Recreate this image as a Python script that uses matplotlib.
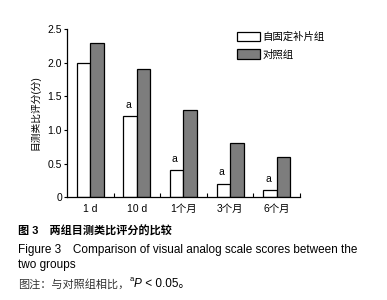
import matplotlib.pyplot as plt
import numpy as np

# 字体：英文用 Liberation Sans，中文用 Noto Sans CJK SC
plt.rcParams['font.family'] = ['Liberation Sans', 'Noto Sans CJK SC', 'DejaVu Sans']
plt.rcParams['axes.unicode_minus'] = False

# 数据
categories = ['1 d', '10 d', '1个月', '3个月', '6个月']
mesh_group = [2.0, 1.2, 0.4, 0.2, 0.1]
control_group = [2.3, 1.9, 1.3, 0.8, 0.6]
marks = ['', 'a', 'a', 'a', 'a']

fig = plt.figure(figsize=(3.87, 3.00), dpi=100)
ax = fig.add_axes([0.173, 0.343, 0.602, 0.56])

x = np.arange(len(categories))
w = 0.29
ax.bar(x - w / 2, mesh_group, w, color='white', edgecolor='black', linewidth=0.9, label='自固定补片组')
ax.bar(x + w / 2, control_group, w, color='#7d7d7d', edgecolor='black', linewidth=0.9, label='对照组')

# 显著性标记
for i, m in enumerate(marks):
    if m:
        ax.text(x[i] - w / 2 - 0.04, mesh_group[i] + 0.1, m, ha='center', va='bottom', fontsize=7.5)

ax.set_xlim(-0.5, 4.5)
ax.set_ylim(0, 2.5)
ax.set_yticks([0, 0.5, 1.0, 1.5, 2.0, 2.5])
ax.set_yticklabels(['0', '0.5', '1.0', '1.5', '2.0', '2.5'])
ax.set_xticks(x)
ax.set_xticklabels(categories)
ax.set_xticks(np.arange(0.5, 5, 1), minor=True)
ax.tick_params(axis='x', which='major', length=0, labelsize=7.5, pad=5)
ax.tick_params(axis='x', which='minor', direction='in', length=3, width=0.8)
ax.tick_params(axis='y', direction='out', length=2.5, width=0.8, labelsize=7.5, pad=1)
ax.spines['top'].set_visible(False)
ax.spines['right'].set_visible(False)
ax.spines['left'].set_linewidth(0.9)
ax.spines['bottom'].set_linewidth(0.9)
ax.set_ylabel('目测类比评分(分)', fontsize=7, labelpad=5)

ax.legend(loc='upper left', bbox_to_anchor=(0.69, 1.04), frameon=False, fontsize=7.5,
          handlelength=2.2, handleheight=1.0, handletextpad=0.2, labelspacing=0.7)

# 图题
fig.text(0.047, 0.23, '图 3　两组目测类比评分的比较', fontsize=8, fontweight='bold', va='center')
fig.text(0.047, 0.167, 'Figure 3　Comparison of visual analog scale scores between the', fontsize=8.5, va='center')
fig.text(0.047, 0.117, 'two groups', fontsize=8.5, va='center')

# 图注分段绘制（上标 a 与斜体 P）
renderer = fig.canvas.get_renderer()
xpos = 0.047
t1 = fig.text(xpos, 0.053, '图注：与对照组相比，', fontsize=8, va='center', color='#333333')
xpos += t1.get_window_extent(renderer).width / fig.bbox.width
t2 = fig.text(xpos, 0.068, 'a', fontsize=5.5, va='center')
xpos += t2.get_window_extent(renderer).width / fig.bbox.width
t3 = fig.text(xpos, 0.053, 'P', fontsize=8.5, style='italic', va='center')
xpos += t3.get_window_extent(renderer).width / fig.bbox.width
fig.text(xpos, 0.053, ' < 0.05。', fontsize=8.5, va='center')

plt.savefig('out.png')
